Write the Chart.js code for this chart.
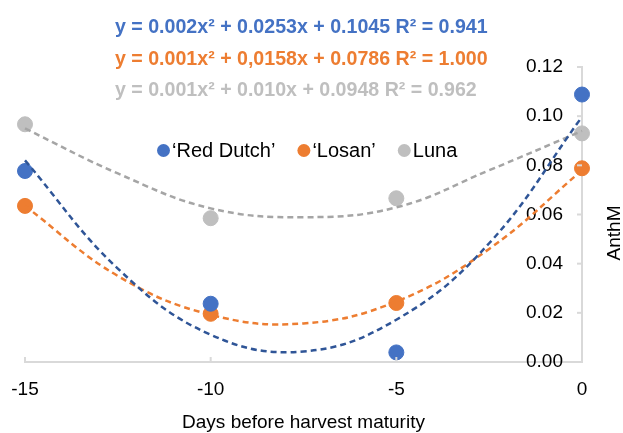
<!DOCTYPE html>
<html>
<head>
<meta charset="utf-8">
<script src="https://cdn.jsdelivr.net/npm/chart.js@4.4.0/dist/chart.umd.min.js"></script>
<style>
  html, body { margin: 0; padding: 0; background: #fff; }
  canvas { display: block; }
</style>
</head>
<body>
<canvas id="chart" width="623" height="433"></canvas>
<script>
// measured values
const days = [-15, -10, -5, 0];
const redDutch = [0.0777, 0.0237, 0.0039, 0.1088];
const losan = [0.0635, 0.0196, 0.0240, 0.0788];
const luna = [0.0967, 0.0585, 0.0666, 0.0930];

// trendlines
const trendDays = [-15, -12.5, -10, -7.5, -5, -2.5, 0];
const redDutchTrend = [0.082, 0.038, 0.0111, 0.0043, 0.0172, 0.0483, 0.0997];
const losanTrend = [0.0635, 0.035, 0.0192, 0.0157, 0.0246, 0.046, 0.078];
const lunaTrend = [0.095, 0.0767, 0.0625, 0.0589, 0.0629, 0.078, 0.094];

const seriesNames = ['\u2018Red Dutch\u2019', '\u2018Losan\u2019', 'Luna'];
const equations = [
  'y = 0.002x\u00b2 + 0.0253x + 0.1045 R\u00b2 = 0.941',
  'y = 0.001x\u00b2 + 0,0158x + 0.0786 R\u00b2 = 1.000',
  'y = 0.001x\u00b2 + 0.010x + 0.0948 R\u00b2 = 0.962'
];
const xTitle = 'Days before harvest maturity';
const yTitle = 'AnthM';

const colors = ['#4472C4', '#ED7D31', '#BFBFBF'];
const trendColors = ['#2F5597', '#ED7D31', '#A5A5A5'];
const FONT = "'Liberation Sans', Arial, sans-serif";

Chart.defaults.font.family = FONT;
Chart.defaults.font.size = 19;
Chart.defaults.color = '#000';

const toPts = (xs, ys) => xs.map((x, i) => ({ x: x, y: ys[i] }));

function trend(values, i) {
  return {
    data: toPts(trendDays, values),
    showLine: true,
    borderColor: trendColors[i],
    borderWidth: 2.5,
    borderDash: [6, 4],
    pointRadius: 0,
    tension: 0.4,
    fill: false,
    clip: false,
    order: 0
  };
}

function points(values, i) {
  return {
    label: seriesNames[i],
    data: toPts(days, values),
    backgroundColor: colors[i],
    borderColor: colors[i],
    pointRadius: 7.5,
    pointHoverRadius: 7.5,
    showLine: false,
    clip: false,
    order: 1
  };
}

const extras = {
  id: 'extras',
  beforeDraw(chart) {
    const ctx = chart.ctx;
    ctx.save();
    ctx.fillStyle = '#fff';
    ctx.fillRect(0, 0, chart.width, chart.height);
    ctx.restore();
  },
  afterDatasetsDraw(chart) {
    const ctx = chart.ctx;
    const xs = chart.scales.x, ys = chart.scales.y;
    ctx.save();
    // inside tick marks
    ctx.strokeStyle = '#D9D9D9';
    ctx.lineWidth = 2;
    xs.ticks.forEach(t => {
      const px = xs.getPixelForValue(t.value);
      ctx.beginPath();
      ctx.moveTo(px, ys.bottom);
      ctx.lineTo(px, ys.bottom - 5);
      ctx.stroke();
    });
    ys.ticks.forEach(t => {
      const py = ys.getPixelForValue(t.value);
      ctx.beginPath();
      ctx.moveTo(xs.right, py);
      ctx.lineTo(xs.right - 5, py);
      ctx.stroke();
    });

    // equations
    ctx.font = 'bold 19.6px ' + FONT;
    ctx.textAlign = 'left';
    ctx.textBaseline = 'alphabetic';
    equations.forEach((eq, i) => {
      ctx.fillStyle = colors[i];
      ctx.fillText(eq, 115, 33 + i * 31.5);
    });

    // legend inside plot
    ctx.font = '20px ' + FONT;
    ctx.textBaseline = 'middle';
    let lx = 157;
    const ly = 150.5;
    seriesNames.forEach((name, i) => {
      ctx.fillStyle = colors[i];
      ctx.beginPath();
      ctx.arc(lx + 6.5, ly, 6.5, 0, Math.PI * 2);
      ctx.fill();
      ctx.fillStyle = '#000';
      ctx.fillText(name, lx + 15, ly + 1);
      lx += 15 + ctx.measureText(name).width + 22;
    });

    // rotated y title
    ctx.font = '19px ' + FONT;
    ctx.translate(615, 233);
    ctx.rotate(-Math.PI / 2);
    ctx.textAlign = 'center';
    ctx.fillText(yTitle, 0, 0);
    ctx.restore();
  }
};

new Chart(document.getElementById('chart'), {
  type: 'scatter',
  data: {
    datasets: [
      trend(redDutchTrend, 0),
      trend(losanTrend, 1),
      trend(lunaTrend, 2),
      points(redDutch, 0),
      points(losan, 1),
      points(luna, 2)
    ]
  },
  options: {
    responsive: false,
    animation: false,
    layout: { padding: { left: 25, top: 67, right: 0, bottom: 0 } },
    plugins: {
      legend: { display: false },
      tooltip: { enabled: false }
    },
    scales: {
      x: {
        type: 'linear',
        min: -15,
        max: 0,
        ticks: { stepSize: 5, padding: 8, color: '#000' },
        grid: { display: false },
        border: { display: true, color: '#D9D9D9', width: 2 },
        title: {
          display: true,
          text: xTitle,
          color: '#000',
          font: { size: 19, lineHeight: 1.1 },
          padding: { top: 0, bottom: 0 }
        },
        afterFit(scale) { scale.height = 71; }
      },
      y: {
        position: 'right',
        min: 0,
        max: 0.12,
        ticks: {
          stepSize: 0.02,
          mirror: true,
          padding: -19,
          color: '#000',
          callback: v => v.toFixed(2)
        },
        grid: { display: false },
        border: { display: true, color: '#D9D9D9', width: 2 },
        afterFit(scale) { scale.width = 41; }
      }
    }
  },
  plugins: [extras]
});
</script>
</body>
</html>
